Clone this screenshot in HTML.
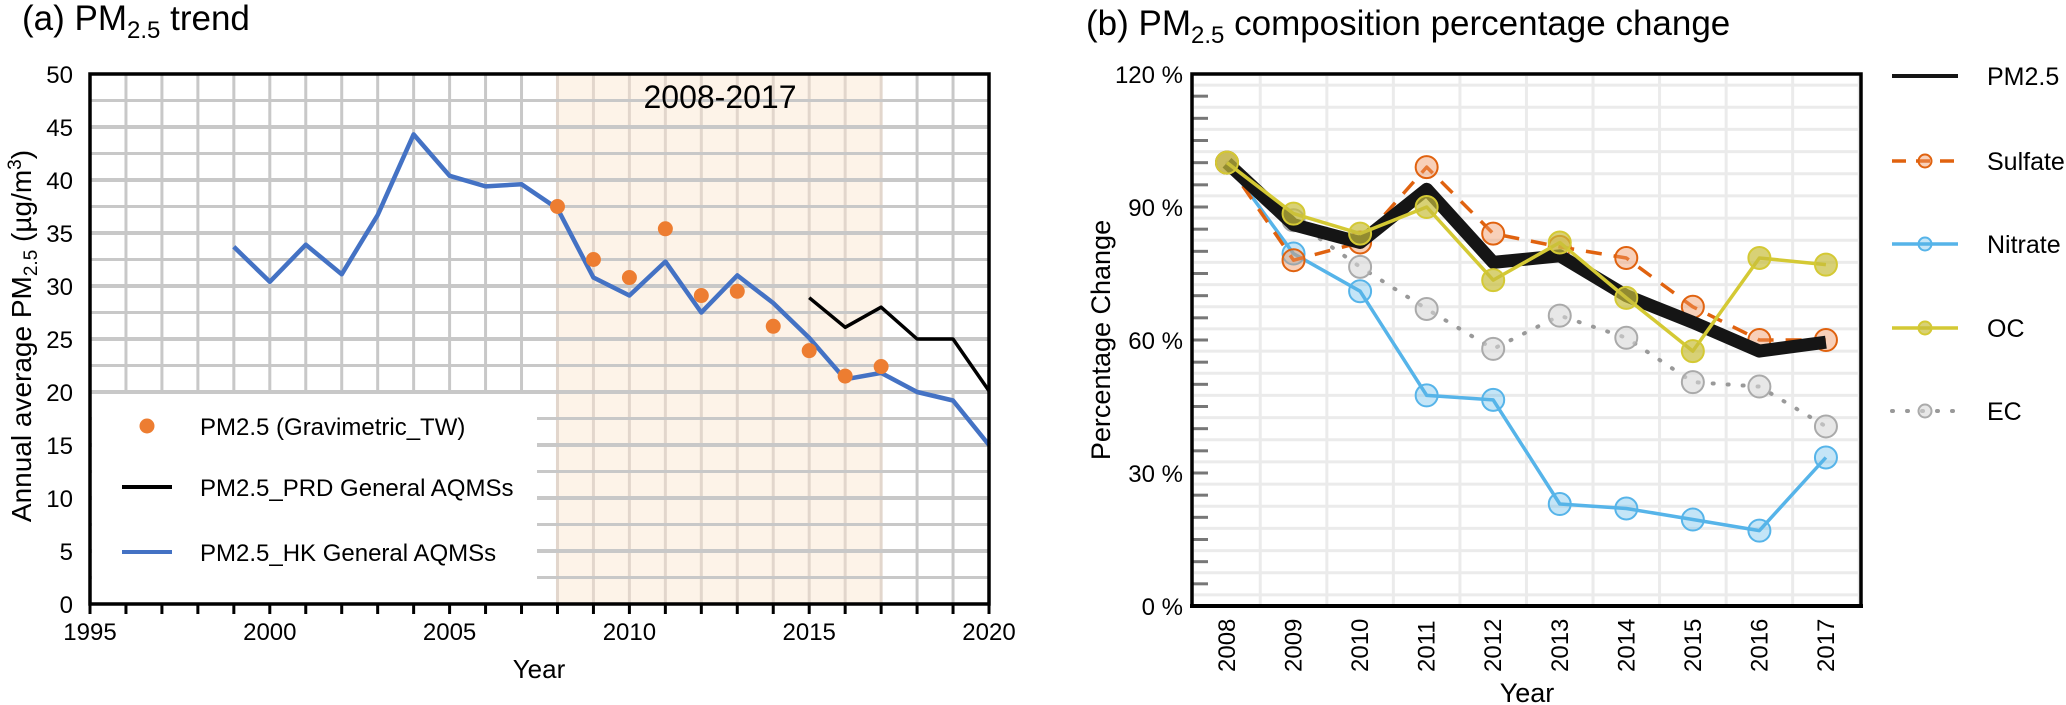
<!DOCTYPE html>
<html><head><meta charset="utf-8"><style>
html,body{margin:0;padding:0;background:#fff;}
svg{display:block;font-family:"Liberation Sans",Arial,sans-serif;}
</style></head><body>
<svg id="fig" width="2066" height="705" viewBox="0 0 2066 705" xmlns="http://www.w3.org/2000/svg">
<text x="22" y="30" font-size="35">(a) PM<tspan font-size="24" dy="8">2.5</tspan><tspan dy="-8"> trend</tspan></text>
<text x="1086" y="35" font-size="35">(b) PM<tspan font-size="24" dy="8">2.5</tspan><tspan dy="-8"> composition percentage change</tspan></text>
<g id="left"></g>
<g id="right"></g>
</svg>
<script>
const hkYears=[1999,2000,2001,2002,2003,2004,2005,2006,2007,2008,2009,2010,2011,2012,2013,2014,2015,2016,2017,2018,2019,2020];
const hkValues=[33.7,30.4,33.9,31.1,36.7,44.3,40.4,39.4,39.6,37.3,30.8,29.1,32.3,27.5,31.0,28.4,25.1,21.2,21.8,20.0,19.2,15.0];
const prdYears=[2015,2016,2017,2018,2019,2020];
const prdValues=[28.9,26.1,28.0,25.0,25.0,20.1];
const gravYears=[2008,2009,2010,2011,2012,2013,2014,2015,2016,2017];
const gravValues=[37.5,32.5,30.8,35.4,29.1,29.5,26.2,23.9,21.5,22.4];
const leftYTicks=[0,5,10,15,20,25,30,35,40,45,50];
const leftXTicks=[1995,2000,2005,2010,2015,2020];

const compYears=[2008,2009,2010,2011,2012,2013,2014,2015,2016,2017];
const pm25Pct=[100,86,82,94,77.5,79,70,64,57.5,59.5];
const sulfatePct=[100,78,82,99,84,81,78.5,67.5,60,60];
const nitratePct=[100,79.5,71,47.5,46.5,23,22,19.5,17,33.5];
const ocPct=[100,88.5,84,90,73.5,82,69.5,57.5,78.5,77];
const ecPct=[100,87,76.5,67,58,65.5,60.5,50.5,49.5,40.5];
const rightYTicks=[0,30,60,90,120];

const NS="http://www.w3.org/2000/svg";
function mk(parent,tag,attrs,text){const e=document.createElementNS(NS,tag);for(const k in attrs)e.setAttribute(k,attrs[k]);if(text!==undefined)e.textContent=text;parent.appendChild(e);return e;}

// ---------- LEFT ----------
const L=document.getElementById('left');
const lx=y=>90+(y-1995)*(989-90)/25;
const ly=v=>604-v*(604-74)/50;
let e;
e=mk(L,'rect',{x:lx(2008),y:74,width:lx(2017)-lx(2008),height:530,fill:'#fdf3e8'});


for(let yr=1996;yr<2020;yr++){
  const inS=yr>=2008&&yr<=2017;
  e=mk(L,'line',{x1:lx(yr),x2:lx(yr),y1:74,y2:604,stroke:inS?'#e2d6cc':'#c8c8c8','stroke-width':3});
  
  
}
for(let v=2.5;v<50;v+=2.5){
  e=mk(L,'line',{x1:90,x2:989,y1:ly(v),y2:ly(v),stroke:'#c8c8c8','stroke-width':v%5===0?4:3});
  
  
}
// legend box
e=mk(L,'rect',{x:92,y:ly(20)+2,width:445,height:604-ly(20)-3,fill:'#fff'});


e=mk(L,'text',{x:lx(2008)+86,y:108,'font-size':32},'2008-2017');


function poly(parent,xs,ys,fx,fy,attrs,name){
  const pts=xs.map((x,i)=>fx(x).toFixed(1)+','+fy(ys[i]).toFixed(1)).join(' ');
  const p=mk(parent,'polyline',Object.assign({points:pts,fill:'none','stroke-linejoin':'round'},attrs));
  
  
  return p;
}
poly(L,hkYears,hkValues,lx,ly,{stroke:'#4472c4','stroke-width':4.5},'hk-line');
poly(L,prdYears,prdValues,lx,ly,{stroke:'#000','stroke-width':3.5},'prd-line');
gravYears.forEach((yr,i)=>{
  const c=mk(L,'circle',{cx:lx(yr),cy:ly(gravValues[i]),r:7.5,fill:'#ed7d31'});
  
  
});
// frame
e=mk(L,'rect',{x:90,y:74,width:899,height:530,fill:'none',stroke:'#000','stroke-width':3.5});


for(let yr=1995;yr<=2020;yr++){
  e=mk(L,'line',{x1:lx(yr),x2:lx(yr),y1:604,y2:614,stroke:'#000','stroke-width':3});
  
  
}
leftXTicks.forEach(t=>{
  e=mk(L,'text',{x:lx(t),y:640,'font-size':24,'text-anchor':'middle'},String(t));
  
  
});
leftYTicks.forEach(t=>{
  e=mk(L,'text',{x:73,y:ly(t)+9,'font-size':24,'text-anchor':'end'},String(t));
  
  
});
e=mk(L,'text',{x:539,y:678,'font-size':26,'text-anchor':'middle'},'Year');


e=mk(L,'text',{transform:'translate(31,336) rotate(-90)','font-size':28,'text-anchor':'middle'});


e.innerHTML='Annual average PM<tspan font-size="19" dy="6">2.5</tspan><tspan dy="-6"> (µg/m</tspan><tspan font-size="19" dy="-10">3</tspan><tspan dy="10">)</tspan>';
// legend entries
e=mk(L,'circle',{cx:147,cy:426,r:7.5,fill:'#ed7d31'});


e=mk(L,'line',{x1:122,x2:172,y1:487,y2:487,stroke:'#000','stroke-width':4});


e=mk(L,'line',{x1:122,x2:172,y1:552,y2:552,stroke:'#4472c4','stroke-width':4});


[['PM2.5 (Gravimetric_TW)',426],['PM2.5_PRD General AQMSs',487],['PM2.5_HK General AQMSs',552]].forEach(a=>{
  e=mk(L,'text',{x:200,y:a[1]+9,'font-size':24},a[0]);
  
  
});

// ---------- RIGHT ----------
const R=document.getElementById('right');
const rx=y=>1227+(y-2008)*66.55;
const ry=v=>606-v*(606-74)/120;
for(let yr=2008.5;yr<2018;yr+=1){
  e=mk(R,'line',{x1:rx(yr),x2:rx(yr),y1:76,y2:604,stroke:'#ebebeb','stroke-width':3});
  
  
}
for(let v=2.5;v<120;v+=5){
  e=mk(R,'line',{x1:1194,x2:1859,y1:ry(v),y2:ry(v),stroke:'#ebebeb','stroke-width':3});
  
  
}
for(let v=5;v<120;v+=5){
  e=mk(R,'line',{x1:1192,x2:1208,y1:ry(v),y2:ry(v),stroke:'#777','stroke-width':3});
  
  
}
function series(vals,stroke,fill,width,dash,name,markers,mstroke){
  const p=poly(R,compYears,vals,rx,ry,{stroke:stroke,'stroke-width':width},name+'-line');
  if(dash)p.setAttribute('stroke-dasharray',dash);
  if(dash==='1 14')p.setAttribute('stroke-linecap','round');
  if(markers){
    compYears.forEach((yr,i)=>{
      const c=mk(R,'circle',{cx:rx(yr),cy:ry(vals[i]),r:11,fill:fill,stroke:mstroke||stroke,'stroke-width':2});
      
      
    });
  }
}
series(ecPct,'#999','rgba(215,215,215,0.6)',4,'1 14','ec',true,'#aaa');
series(nitratePct,'#56b4e9','rgba(86,180,233,0.35)',3.5,null,'nitrate',true);
series(sulfatePct,'#e0620f','rgba(240,150,100,0.45)',3.5,'16 12','sulfate',true);
series(pm25Pct,'#151515','none',13,null,'pm25',false);
series(ocPct,'#d4c934','rgba(200,190,60,0.7)',3.5,null,'oc',true);
// axes
e=mk(R,'polyline',{points:'1192,606 1192,74 1861,74 1861,606',fill:'none',stroke:'#000','stroke-width':3.5});


e=mk(R,'line',{x1:1190,x2:1863,y1:606,y2:606,stroke:'#000','stroke-width':4});


rightYTicks.forEach(t=>{
  e=mk(R,'text',{x:1183,y:ry(t)+9,'font-size':24,'text-anchor':'end'},t+' %');
  
  
});
compYears.forEach(yr=>{
  e=mk(R,'text',{transform:'translate('+(rx(yr)+8)+',672) rotate(-90)','font-size':24},String(yr));
  
  
});
e=mk(R,'text',{x:1527,y:702,'font-size':27,'text-anchor':'middle'},'Year');


e=mk(R,'text',{transform:'translate(1110,340) rotate(-90)','font-size':27,'text-anchor':'middle'},'Percentage Change');


// legend
const leg=[['PM2.5','#151515',null,null,76,4],['Sulfate','#e0620f','rgba(240,150,100,0.45)','14 10',161,3.5],['Nitrate','#56b4e9','rgba(86,180,233,0.35)',null,244,3.5],['OC','#d4c934','rgba(200,190,60,0.7)',null,328,3.5],['EC','#999','rgba(215,215,215,0.6)','1 14',411,4]];
leg.forEach(a=>{
  const ln=mk(R,'line',{x1:1892,x2:1958,y1:a[4],y2:a[4],stroke:a[1],'stroke-width':a[5]});
  if(a[3])ln.setAttribute('stroke-dasharray',a[3]);
  if(a[3]==='1 14')ln.setAttribute('stroke-linecap','round');
  
  
  if(a[2]){
    const c=mk(R,'circle',{cx:1925,cy:a[4],r:6.5,fill:a[2],stroke:a[0]==='EC'?'#aaa':a[1],'stroke-width':2});
    
    
  }
  const t=mk(R,'text',{x:1987,y:a[4]+9,'font-size':25},a[0]);
  
  
});
</script>
</body></html>
